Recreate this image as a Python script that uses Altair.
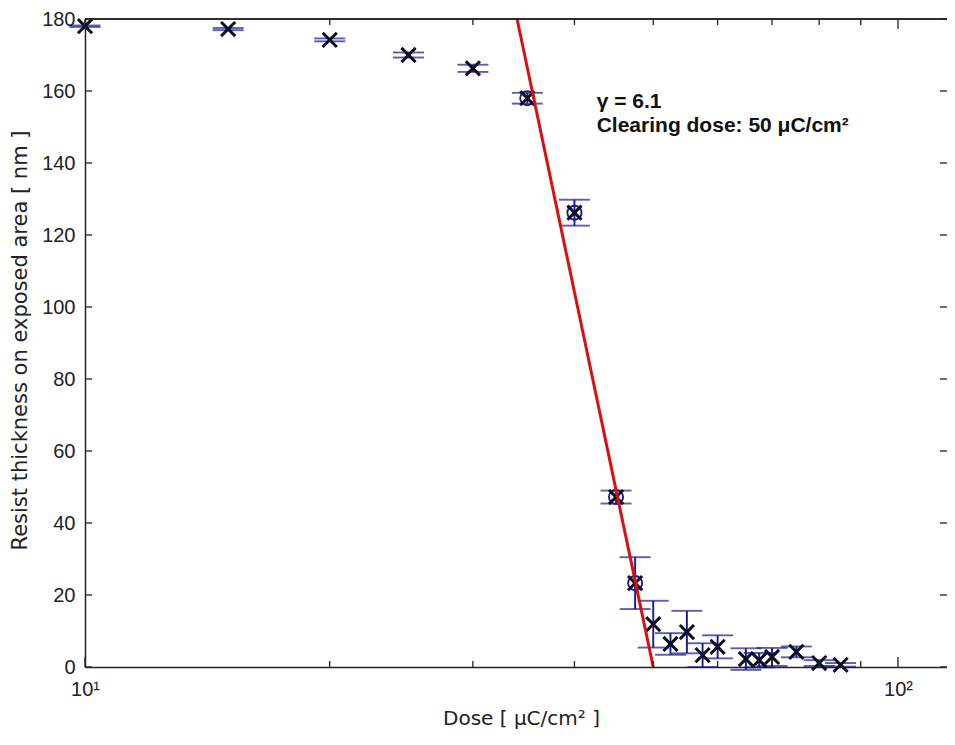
import altair as alt
import pandas as pd

# ---- data ----
dose = [10, 15, 20, 25, 30, 35, 40, 45, 47.5, 50, 52.5, 55, 57.5, 60, 65, 67.5, 70, 75, 80, 85]
thickness = [178.0, 177.2, 174.2, 170.0, 166.3, 158.0, 126.2, 47.2, 23.3, 11.9,
             6.4, 9.7, 3.3, 5.6, 2.2, 1.9, 2.8, 4.2, 1.1, 0.6]
error = [0.2, 0.3, 0.4, 0.7, 1.0, 1.5, 3.6, 1.8, 7.2, 6.5,
         3.0, 5.9, 3.3, 3.2, 3.0, 2.0, 2.5, 1.5, 0.8, 0.5]
circled_dose = [35, 40, 45, 47.5]

fit_dose = [34.0, 50.0]
fit_thickness = [180.0, 0.0]

y_tick_values = [0, 20, 40, 60, 80, 100, 120, 140, 160, 180]
x_major_ticks = [10, 100]
x_minor_ticks = [20, 30, 40, 50, 60, 70, 80, 90]

note_dose = [42.6, 42.6]
note_thickness = [155.2, 148.6]
note_text = ["γ = 6.1", "Clearing dose: 50 μC/cm²"]

# ---- tables ----
df = pd.DataFrame({"dose": dose, "thickness": thickness, "err": error})
df["lo"] = df["thickness"] - df["err"]
df["hi"] = df["thickness"] + df["err"]
df_circ = df[df["dose"].isin(circled_dose)]
df_fit = pd.DataFrame({"dose": fit_dose, "thickness": fit_thickness})
df_yt = pd.DataFrame({"thickness": y_tick_values})
df_xmaj = pd.DataFrame({"dose": x_major_ticks})
df_xmin = pd.DataFrame({"dose": x_minor_ticks})
df_note = pd.DataFrame({"dose": note_dose, "thickness": note_thickness, "text": note_text})

W, H = 862, 648
AXC = "#222222"
BLUE = "#1a1a8c"
LABEL_FONT = "Liberation Sans Narrow, Arial Narrow, Liberation Sans, Arial"
TITLE_FONT = "DejaVu Sans"

xs = alt.Scale(type="log", domain=[10, 114.9], nice=False)
ys = alt.Scale(domain=[0, 180], nice=False)

x_axis = alt.Axis(
    values=[10, 100],
    labelExpr="datum.value == 10 ? '10¹' : (datum.value == 100 ? '10²' : '')",
    ticks=False, grid=False, domain=True, domainColor=AXC, domainWidth=1.5,
    labelFont=LABEL_FONT, labelFontSize=20, labelColor=AXC, labelPadding=12,
    labelFlush=False, labelOverlap=False,
    title="Dose [ μC/cm² ]", titleFont=TITLE_FONT, titleFontSize=20,
    titleFontWeight="normal", titleColor=AXC, titleX=436, titleY=51,
    titleBaseline="middle", titleAlign="center",
)
y_axis = alt.Axis(
    values=y_tick_values, ticks=False, grid=False, domain=True, domainColor=AXC, domainWidth=1.5,
    labelFont=LABEL_FONT, labelFontSize=20, labelColor=AXC, labelPadding=10,
    labelBaseline="middle", labelFlush=False, labelOverlap=False,
    title="Resist thickness on exposed area [ nm ]", titleFont=TITLE_FONT,
    titleFontSize=21, titleFontWeight="normal", titleColor=AXC,
    titleX=-65, titleY=H / 2 - 3, titleAngle=270, titleBaseline="middle", titleAlign="center",
)


def X(field="dose"):
    return alt.X(f"{field}:Q", scale=xs, axis=x_axis)


def Y(field="thickness"):
    return alt.Y(f"{field}:Q", scale=ys, axis=y_axis)


# error bars (vertical)
bars = alt.Chart(df).mark_rule(color=BLUE, strokeWidth=1.9).encode(
    x=X(), y=Y("lo"), y2="hi:Q",
)
caps_lo = alt.Chart(df).mark_tick(color=BLUE, orient="horizontal", size=31, thickness=1.9).encode(
    x=X(), y=Y("lo"),
)
caps_hi = alt.Chart(df).mark_tick(color=BLUE, orient="horizontal", size=31, thickness=1.9).encode(
    x=X(), y=Y("hi"),
)
circles = alt.Chart(df_circ).mark_point(shape="circle", filled=False, color=BLUE,
                                        strokeWidth=1.9, size=200, opacity=1).encode(
    x=X(), y=Y(),
)
crosses = alt.Chart(df).mark_point(shape="M -1 -1 L 1 1 M -1 1 L 1 -1", filled=False,
                                   color="#0e0e22", strokeWidth=3, size=200, opacity=1).encode(
    x=X(), y=Y(),
)
fit = alt.Chart(df_fit).mark_line(color="#d81010", strokeWidth=3).encode(
    x=X(), y=Y(),
)
notes = alt.Chart(df_note).mark_text(align="left", baseline="alphabetic", font="Liberation Sans",
                                     fontSize=21, fontWeight="bold", color="#111111").encode(
    x=X(), y=Y(), text="text:N",
)

# inward tick marks (MATLAB style box)
left_ticks = alt.Chart(df_yt).mark_rule(color=AXC, strokeWidth=1.3).encode(
    y=Y(), x=alt.value(0), x2=alt.value(7))
right_ticks = alt.Chart(df_yt).mark_rule(color=AXC, strokeWidth=1.3).encode(
    y=Y(), x=alt.value(W - 7), x2=alt.value(W))
bottom_major = alt.Chart(df_xmaj).mark_rule(color=AXC, strokeWidth=1.3).encode(
    x=X(), y=alt.value(H), y2=alt.value(H - 10))
bottom_minor = alt.Chart(df_xmin).mark_rule(color=AXC, strokeWidth=1.3).encode(
    x=X(), y=alt.value(H), y2=alt.value(H - 6))
top_major = alt.Chart(df_xmaj).mark_rule(color=AXC, strokeWidth=1.3).encode(
    x=X(), y=alt.value(0), y2=alt.value(10))
top_minor = alt.Chart(df_xmin).mark_rule(color=AXC, strokeWidth=1.3).encode(
    x=X(), y=alt.value(0), y2=alt.value(6))
top_border = alt.Chart(df_xmaj).mark_rule(color=AXC, strokeWidth=1.5).encode(
    x=alt.value(0), x2=alt.value(W), y=alt.value(0))

chart = alt.layer(
    bars, caps_lo, caps_hi, circles, crosses, fit,
    left_ticks, right_ticks, bottom_major, bottom_minor, top_major, top_minor, top_border,
    notes,
).properties(
    width=W, height=H,
    autosize=alt.AutoSizeParams(type="none"),
    padding={"left": 77, "top": 11, "right": 0, "bottom": 64},
    background="white",
).configure_view(stroke=None)

chart.save("out.html", embed_options={"renderer": "svg", "actions": False})
